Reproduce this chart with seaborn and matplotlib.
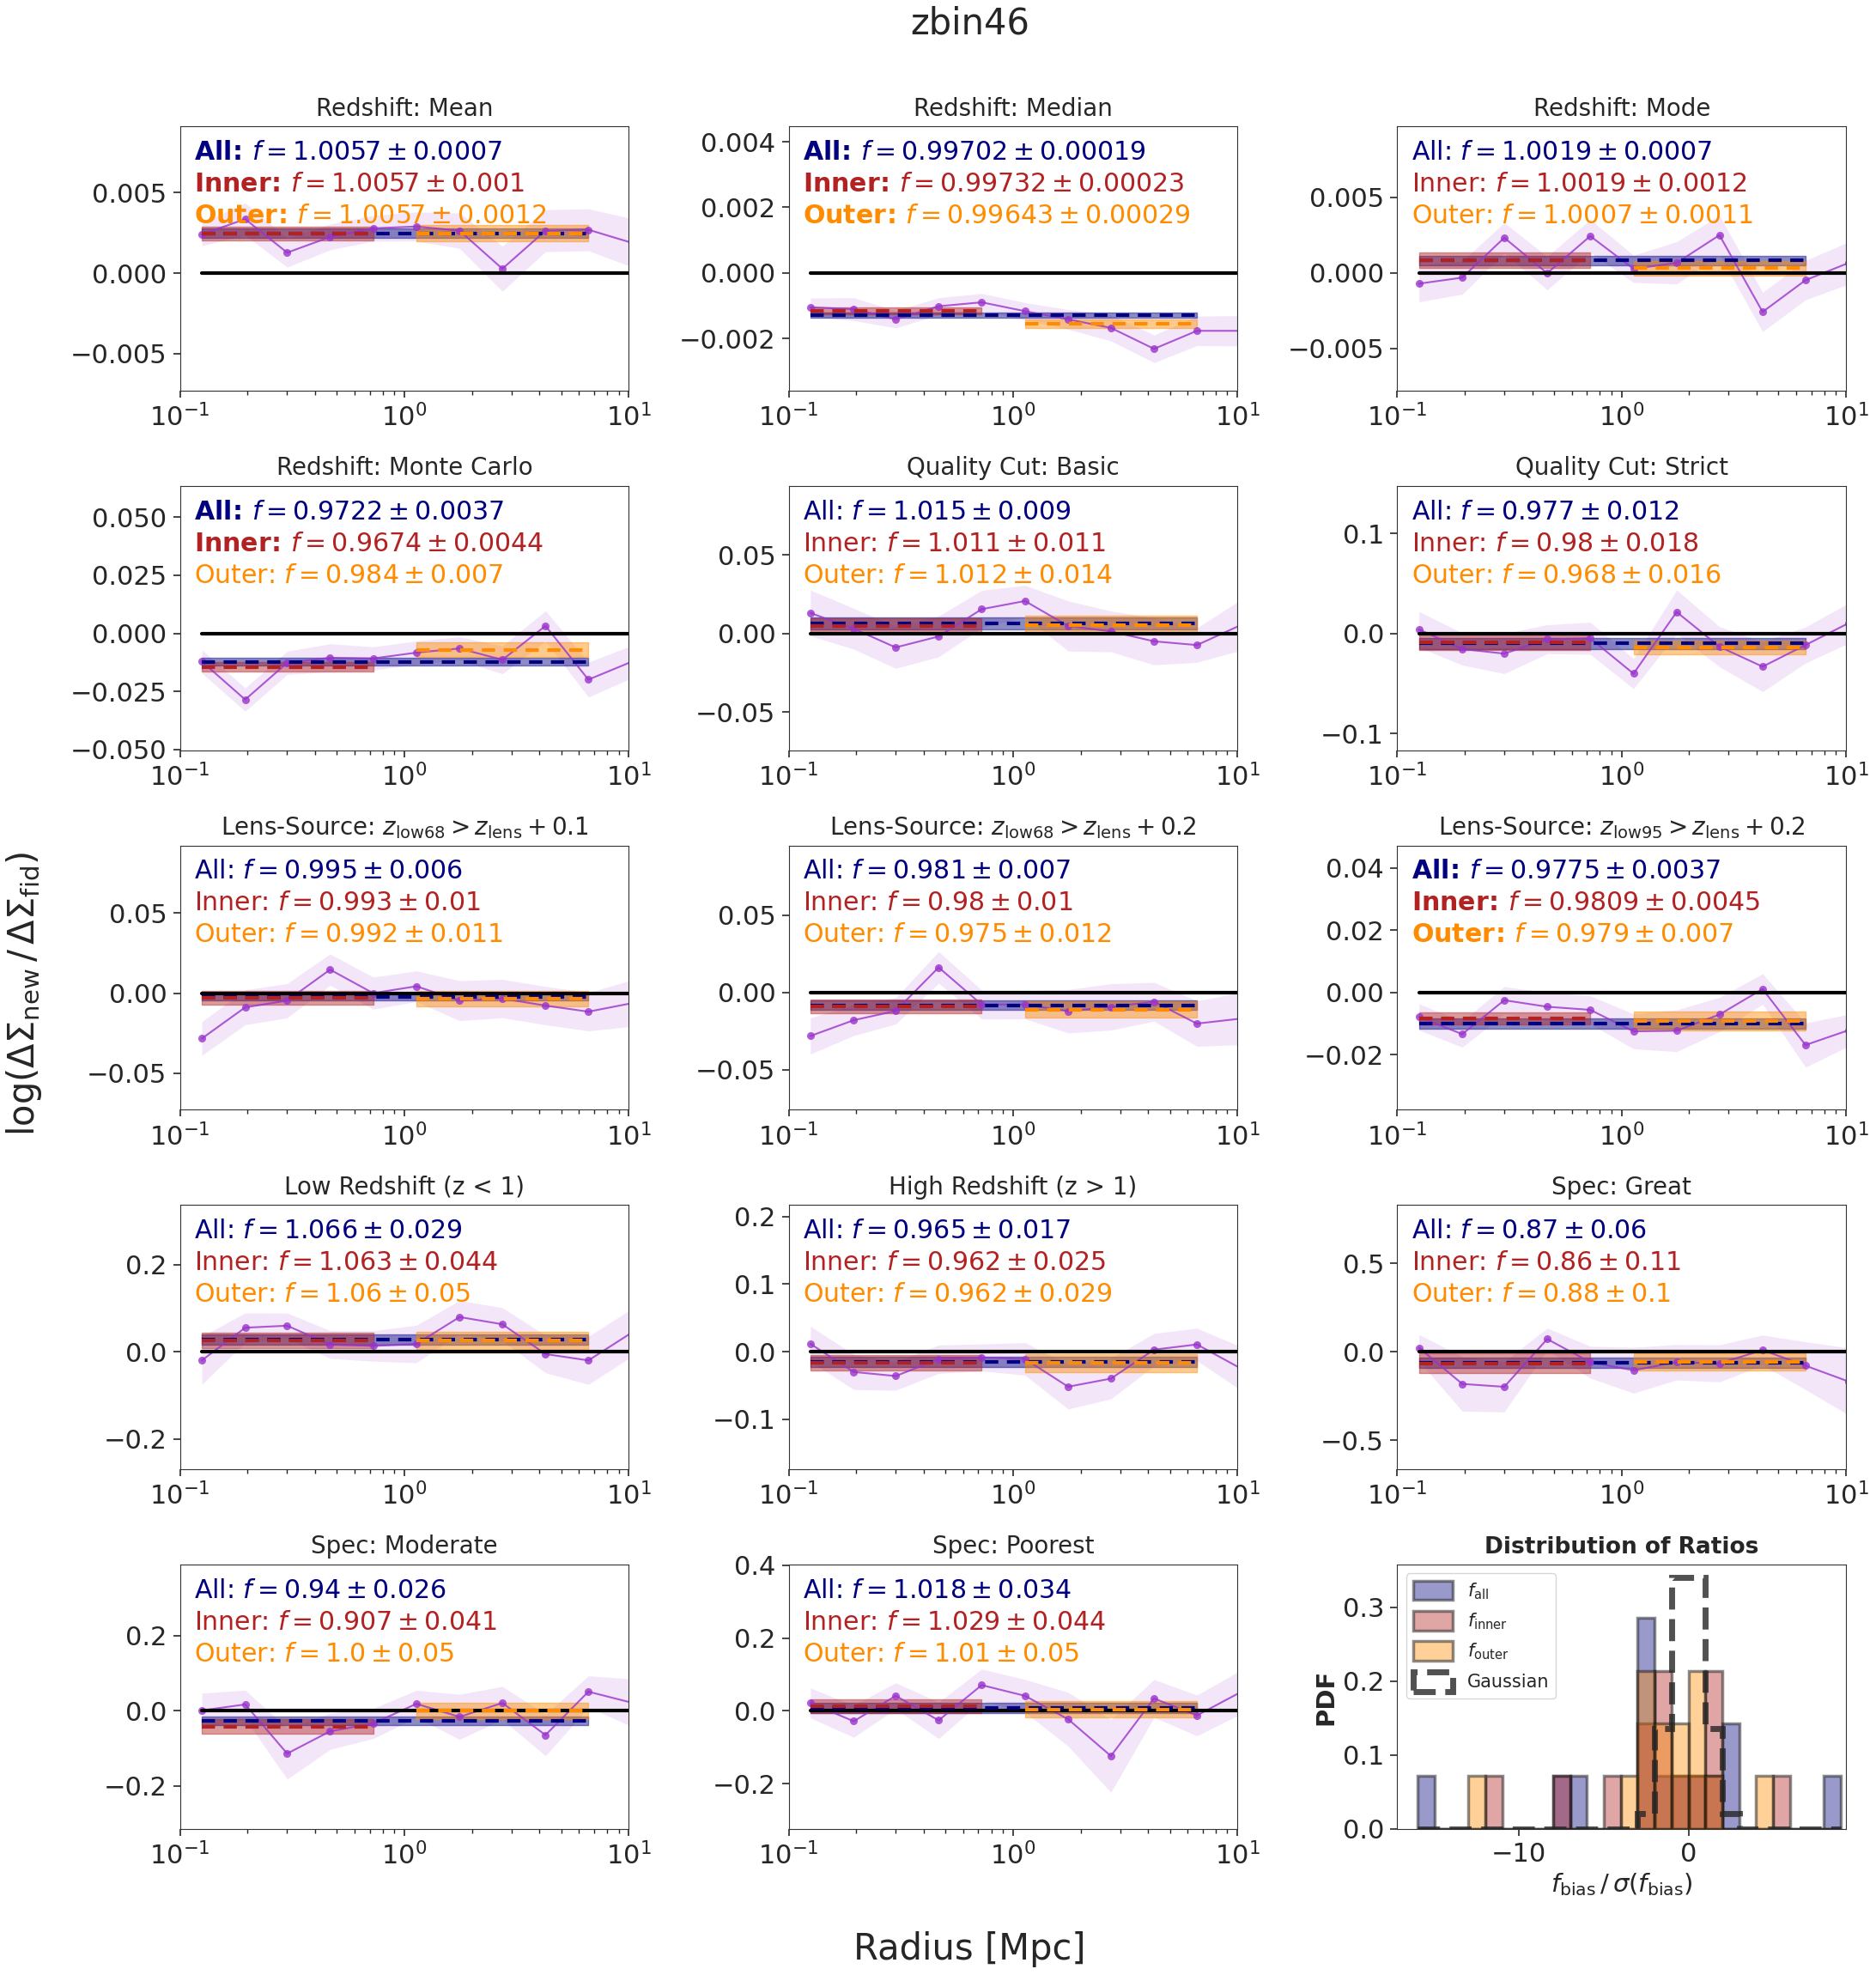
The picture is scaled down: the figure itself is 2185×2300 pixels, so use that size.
import numpy as np
import matplotlib
matplotlib.use("Agg")
import matplotlib.pyplot as plt
from matplotlib.ticker import MultipleLocator
import seaborn as sns

sns.set_style("ticks")
plt.rcParams['font.family'] = ['DejaVu Sans']
plt.rcParams['mathtext.fontset'] = 'dejavusans'

# radial bins [Mpc]
radius = [0.125, 0.195, 0.30, 0.466, 0.725, 1.13, 1.76, 2.73, 4.25, 6.6, 10.3]

titles = [
    "Redshift: Mean", "Redshift: Median", "Redshift: Mode",
    "Redshift: Monte Carlo", "Quality Cut: Basic", "Quality Cut: Strict",
    r"Lens-Source: $z_{\rm low68} > z_{\rm lens} + 0.1$",
    r"Lens-Source: $z_{\rm low68} > z_{\rm lens} + 0.2$",
    r"Lens-Source: $z_{\rm low95} > z_{\rm lens} + 0.2$",
    "Low Redshift (z < 1)", "High Redshift (z > 1)", "Spec: Great",
    "Spec: Moderate", "Spec: Poorest",
]

# log(dSigma_new / dSigma_fid) per radius
ratio_vals = [
    [0.0024, 0.00335, 0.00127, 0.00224, 0.00278, 0.00289, 0.00263, 0.00027, 0.00263, 0.00269, 0.00188],
    [-0.00105, -0.00111, -0.00142, -0.00102, -0.0009, -0.00117, -0.00142, -0.00168, -0.00232, -0.00177, -0.00177],
    [-0.00071, -0.00031, 0.00233, -0.00002, 0.00244, 0.00027, 0.00067, 0.0025, -0.00258, -0.00048, 0.00067],
    [-0.0121, -0.0285, -0.0127, -0.0105, -0.0108, -0.0083, -0.0065, -0.0114, 0.0032, -0.0199, -0.0122],
    [0.0131, 0.003, -0.0089, -0.0019, 0.0155, 0.0207, 0.0048, 0.0013, -0.005, -0.0074, 0.0052],
    [0.004, -0.0156, -0.0202, -0.0058, -0.0049, -0.0402, 0.0214, -0.0133, -0.0332, -0.0116, 0.0104],
    [-0.0284, -0.0089, -0.0047, 0.0147, 0.0, 0.0043, -0.0047, -0.0034, -0.0078, -0.0116, -0.0063],
    [-0.0281, -0.0179, -0.0119, 0.0162, -0.0078, -0.0078, -0.0121, -0.0093, -0.006, -0.0201, -0.0169],
    [-0.0079, -0.0134, -0.0025, -0.0046, -0.0056, -0.0125, -0.0123, -0.0071, 0.0011, -0.0169, -0.0121],
    [-0.0199, 0.0552, 0.0598, 0.0166, 0.0133, 0.0179, 0.0797, 0.0631, -0.0053, -0.0199, 0.0439],
    [0.0116, -0.03, -0.036, -0.0111, -0.0086, -0.0107, -0.0518, -0.0398, 0.003, 0.0107, -0.0244],
    [0.0229, -0.1817, -0.198, 0.072, -0.0589, -0.1047, -0.0589, -0.0655, 0.0098, -0.0786, -0.1686],
    [0.0008, 0.0169, -0.1138, -0.0546, -0.0338, 0.0185, -0.0162, 0.0208, -0.0646, 0.0508, 0.0215],
    [0.0215, -0.0286, 0.0413, -0.0262, 0.0708, 0.0413, -0.0231, -0.1241, 0.0342, -0.0127, 0.0509],
]
ratio_errs = [
    [0.0007, 0.001, 0.0009, 0.0008, 0.0008, 0.0009, 0.0011, 0.0014, 0.0013, 0.0013, 0.0015],
    [0.00028, 0.00035, 0.00026, 0.00026, 0.00027, 0.00026, 0.0003, 0.0004, 0.00042, 0.00045, 0.00046],
    [0.0012, 0.0011, 0.001, 0.0011, 0.0011, 0.0009, 0.0014, 0.0013, 0.0013, 0.0013, 0.0014],
    [0.005, 0.005, 0.005, 0.006, 0.005, 0.005, 0.005, 0.006, 0.0065, 0.0075, 0.007],
    [0.0146, 0.013, 0.0133, 0.013, 0.012, 0.01, 0.016, 0.013, 0.015, 0.011, 0.016],
    [0.018, 0.016, 0.02, 0.0145, 0.016, 0.015, 0.022, 0.02, 0.025, 0.018, 0.02],
    [0.0105, 0.0109, 0.0107, 0.0098, 0.01, 0.0096, 0.0125, 0.012, 0.012, 0.012, 0.0145],
    [0.0117, 0.0099, 0.0085, 0.0102, 0.0093, 0.0092, 0.014, 0.015, 0.0125, 0.0147, 0.0168],
    [0.0042, 0.0042, 0.0044, 0.0045, 0.0045, 0.0056, 0.0067, 0.0055, 0.0049, 0.0071, 0.0051],
    [0.055, 0.034, 0.029, 0.032, 0.035, 0.043, 0.038, 0.038, 0.043, 0.055, 0.055],
    [0.026, 0.026, 0.021, 0.021, 0.02, 0.024, 0.033, 0.03, 0.024, 0.024, 0.032],
    [0.075, 0.154, 0.142, 0.062, 0.09, 0.129, 0.1, 0.105, 0.085, 0.135, 0.19],
    [0.046, 0.038, 0.068, 0.048, 0.04, 0.036, 0.06, 0.044, 0.055, 0.042, 0.063],
    [0.041, 0.044, 0.036, 0.05, 0.044, 0.045, 0.074, 0.1, 0.052, 0.056, 0.06],
]

# fitted bias factors
f_all = [1.0057, 0.99702, 1.0019, 0.9722, 1.015, 0.977, 0.995, 0.981, 0.9775, 1.066, 0.965, 0.87, 0.94, 1.018]
s_all = [0.0007, 0.00019, 0.0007, 0.0037, 0.009, 0.012, 0.006, 0.007, 0.0037, 0.029, 0.017, 0.06, 0.026, 0.034]
f_inner = [1.0057, 0.99732, 1.0019, 0.9674, 1.011, 0.98, 0.993, 0.98, 0.9809, 1.063, 0.962, 0.86, 0.907, 1.029]
s_inner = [0.001, 0.00023, 0.0012, 0.0044, 0.011, 0.018, 0.01, 0.01, 0.0045, 0.044, 0.025, 0.11, 0.041, 0.044]
f_outer = [1.0057, 0.99643, 1.0007, 0.984, 1.012, 0.968, 0.992, 0.975, 0.979, 1.06, 0.962, 0.88, 1.0, 1.01]
s_outer = [0.0012, 0.00029, 0.0011, 0.007, 0.014, 0.016, 0.011, 0.012, 0.007, 0.05, 0.029, 0.1, 0.05, 0.05]
bold_all = [1, 1, 0, 1, 0, 0, 0, 0, 1, 0, 0, 0, 0, 0]
bold_inner = [1, 1, 0, 1, 0, 0, 0, 0, 1, 0, 0, 0, 0, 0]
bold_outer = [1, 1, 0, 0, 0, 0, 0, 0, 1, 0, 0, 0, 0, 0]

ylims = [(-0.0073, 0.0091), (-0.0036, 0.00447), (-0.0078, 0.0097), (-0.0503, 0.0634),
         (-0.0745, 0.0941), (-0.1168, 0.1474), (-0.073, 0.0924), (-0.0758, 0.095),
         (-0.0377, 0.0472), (-0.27, 0.337), (-0.174, 0.217), (-0.6645, 0.83),
         (-0.314, 0.389), (-0.3245, 0.4024)]
yticks = [[-0.005, 0, 0.005], [-0.002, 0, 0.002, 0.004], [-0.005, 0, 0.005],
          [-0.05, -0.025, 0, 0.025, 0.05], [-0.05, 0, 0.05], [-0.1, 0, 0.1],
          [-0.05, 0, 0.05], [-0.05, 0, 0.05], [-0.02, 0, 0.02, 0.04],
          [-0.2, 0, 0.2], [-0.1, 0, 0.1, 0.2], [-0.5, 0, 0.5],
          [-0.2, 0, 0.2], [-0.2, 0, 0.2, 0.4]]

# f_bias / sigma(f_bias) for the histogram panel
sig_all = [8.1, -15.7, 2.7, -7.5, 1.7, -1.9, -0.8, -2.7, -6.1, 2.3, -2.1, -2.2, -2.3, 0.5]
sig_inner = [5.7, -11.7, 1.6, -7.4, 1.0, -1.1, -0.7, -2.05, -4.2, 1.4, -1.5, -1.3, -2.3, 0.7]
sig_outer = [4.8, -12.3, 0.6, -2.3, 0.9, -2.05, -0.7, -2.1, -3.02, 1.2, -1.3, -1.2, -0.04, 0.2]
gauss_left = [-3, -2, -1, 0, 1, 2]
gauss_pdf = [0.021, 0.136, 0.341, 0.341, 0.136, 0.021]

purple = 'darkorchid'

fig, axes = plt.subplots(5, 3, figsize=(21.85, 23), dpi=100)
fig.subplots_adjust(left=0.096, right=0.984, top=0.936, bottom=0.074, wspace=0.356, hspace=0.36)

r = np.array(radius)
for i, ax in enumerate(axes.flat[:14]):
    y = np.array(ratio_vals[i])
    e = np.array(ratio_errs[i])
    ax.set_xscale('log')
    ax.fill_between(r, y - e, y + e, color=purple, alpha=0.12, lw=0)
    sns.lineplot(x=r, y=y, ax=ax, color=purple, marker='o', markersize=6.5,
                 markeredgewidth=0, lw=1.5, alpha=0.8)
    ax.plot(r, np.zeros_like(r), color='k', lw=3)

    fits = [(0, 10, f_all[i], s_all[i], 'navy'),
            (0, 5, f_inner[i], s_inner[i], 'firebrick'),
            (5, 10, f_outer[i], s_outer[i], 'darkorange')]
    for lo, hi, fv, sv, col in fits:
        mu = np.log10(fv)
        d = sv / (fv * np.log(10))
        xs = r[lo:hi]
        ax.fill_between(xs, mu - d, mu + d, color=col, alpha=0.45)
        ax.plot(xs, np.full(len(xs), mu), color=col, lw=3, ls=(0, (3.7, 2.4)))

    labels = [("All", f_all[i], s_all[i], bold_all[i], 'navy'),
              ("Inner", f_inner[i], s_inner[i], bold_inner[i], 'firebrick'),
              ("Outer", f_outer[i], s_outer[i], bold_outer[i], 'darkorange')]
    for k, (name, fv, sv, b, col) in enumerate(labels):
        head = r"$\bf{" + name + r"\!:\!}$" if b else name + ":"
        ax.text(0.031, 0.874 - 0.12 * k, head + r" $f = " + f"{fv}" + r" \pm " + f"{sv}" + "$",
                transform=ax.transAxes, color=col, fontsize=21.6, va='baseline', ha='left')

    ax.set_xlim(0.1, 10)
    ax.set_ylim(*ylims[i])
    ax.set_yticks(yticks[i])
    ax.set_title(titles[i], fontsize=20, pad=9)
    ax.tick_params(axis='both', which='major', labelsize=22, length=6, width=1.2, pad=5)
    ax.tick_params(axis='x', which='minor', length=3.5, width=1)
    for sp in ax.spines.values():
        sp.set_color('0.2')

# histogram of significances
hx = axes[4, 2]
edges = np.arange(-16, 10)
hist_sets = [(sig_all, 'navy', r'$f_{\rm all}$'),
             (sig_inner, 'firebrick', r'$f_{\rm inner}$'),
             (sig_outer, 'darkorange', r'$f_{\rm outer}$')]
for vals, col, lab in hist_sets:
    sns.histplot(x=vals, bins=edges, stat='density', color=col, alpha=0.4,
                 edgecolor=(0.1, 0.1, 0.1, 0.5), linewidth=2.5, label=lab, ax=hx)
gw = np.zeros(len(edges) - 1)
for left, p in zip(gauss_left, gauss_pdf):
    gw[left - edges[0]] = p
hx.hist(edges[:-1] + 0.5, bins=edges, weights=gw, histtype='step', color='0.15',
        alpha=0.8, lw=5, ls='--', label='Gaussian')
hx.set_xlim(-17.2, 9.3)
hx.set_ylim(0, 0.358)
hx.xaxis.set_major_locator(MultipleLocator(10))
hx.yaxis.set_major_locator(MultipleLocator(0.1))
hx.set_title("Distribution of Ratios", fontsize=19, fontweight='bold', pad=9)
hx.set_ylabel("PDF", fontsize=21, fontweight='bold')
hx.set_xlabel(r"$f_{\rm bias}\,/\,\sigma(f_{\rm bias})$", fontsize=21)
hx.tick_params(axis='both', which='major', labelsize=22, length=6, width=1.2, pad=5)
handles, names = hx.get_legend_handles_labels()
order = [names.index(n) for n in [r'$f_{\rm all}$', r'$f_{\rm inner}$', r'$f_{\rm outer}$', 'Gaussian']]
hx.legend([handles[j] for j in order], [names[j] for j in order], loc='upper left',
          fontsize=15, framealpha=0.8, handlelength=2.2, handleheight=1.3, labelspacing=0.55)
for sp in hx.spines.values():
    sp.set_color('0.2')

fig.suptitle("zbin46", fontsize=30, x=0.517, y=0.988, va='center')
fig.text(0.517, 0.013, "Radius [Mpc]", fontsize=30, ha='center', va='center')
fig.text(0.013, 0.497, r"log$(\Delta\Sigma_{\rm new}\,/\,\Delta\Sigma_{\rm fid})$",
         fontsize=30, rotation=90, ha='center', va='center')

fig.savefig("out.png", dpi=100)
